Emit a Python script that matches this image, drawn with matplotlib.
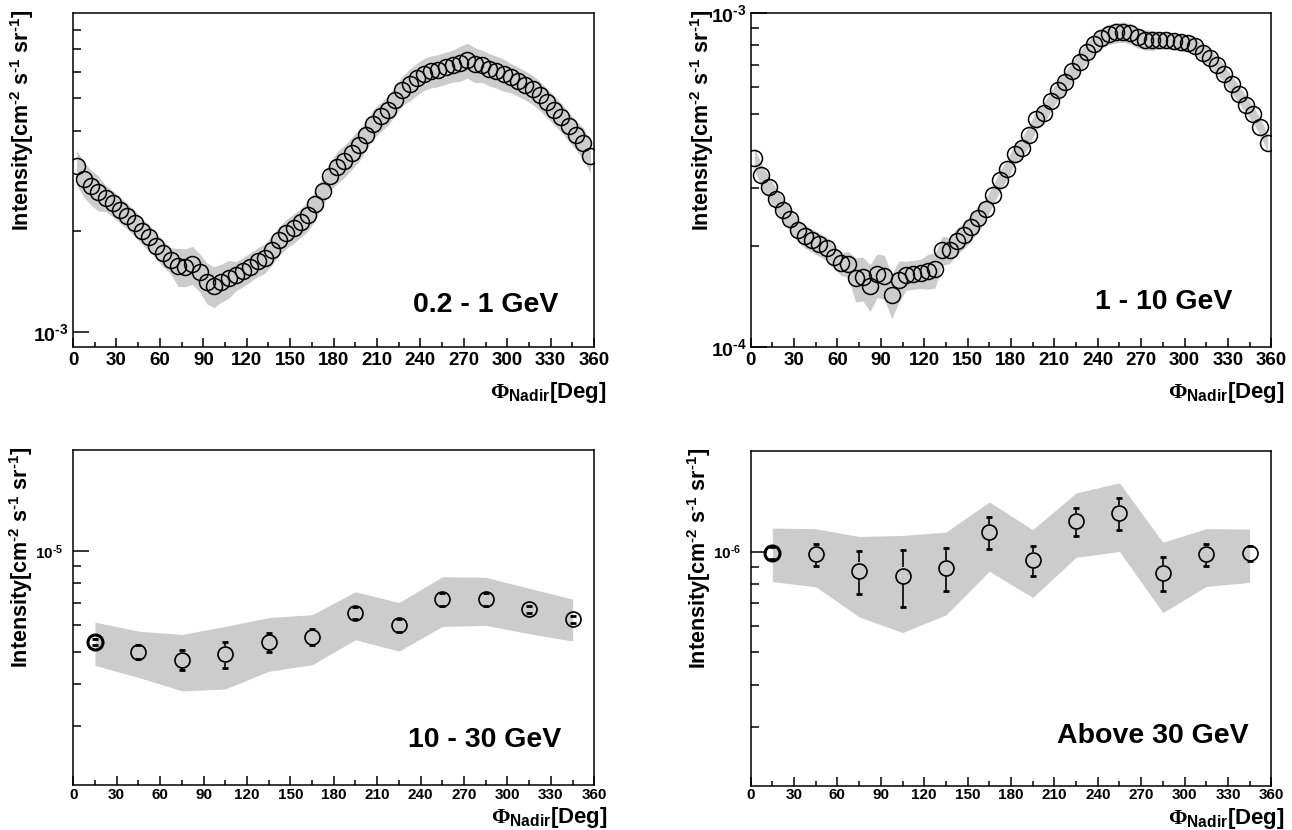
import numpy as np
import matplotlib
matplotlib.use('Agg')
import matplotlib.pyplot as plt
from matplotlib.ticker import FixedLocator, FuncFormatter, NullFormatter

plt.rcParams['font.family'] = ['Liberation Sans', 'DejaVu Sans']
plt.rcParams['font.weight'] = 'bold'
plt.rcParams['mathtext.fontset'] = 'custom'
plt.rcParams['mathtext.rm'] = 'Liberation Sans:bold'
plt.rcParams['mathtext.it'] = 'Liberation Sans:bold'
plt.rcParams['mathtext.bf'] = 'Liberation Sans:bold'
plt.rcParams['mathtext.sf'] = 'Liberation Serif'
plt.rcParams['axes.linewidth'] = 1.1

# bin centres [deg]
phi_fine = np.arange(2.5, 360, 5)
phi_coarse = np.arange(15, 360, 30)

# 0.2 - 1 GeV, intensity in 1e-3 cm^-2 s^-1 sr^-1
int_02_1 = np.array([3.127, 2.873, 2.723, 2.612, 2.517, 2.426, 2.321, 2.227, 2.122, 2.008,
                     1.918, 1.811, 1.715, 1.637, 1.570, 1.567, 1.593, 1.514, 1.409, 1.373,
                     1.410, 1.446, 1.474, 1.516, 1.567, 1.623, 1.662, 1.762, 1.881, 1.973,
                     2.046, 2.129, 2.230, 2.411, 2.646, 2.933, 3.120, 3.252, 3.436, 3.631,
                     3.889, 4.202, 4.414, 4.607, 4.928, 5.294, 5.502, 5.731, 5.928, 6.035,
                     6.089, 6.186, 6.284, 6.389, 6.531, 6.332, 6.271, 6.126, 6.022, 5.902,
                     5.773, 5.636, 5.486, 5.327, 5.105, 4.864, 4.620, 4.387, 4.129, 3.889,
                     3.681, 3.359]) * 1e-3
# relative systematic band
sys_02_1 = np.array([0.12, 0.12, 0.12, 0.12, 0.09, 0.09, 0.09, 0.09, 0.09, 0.09,
                     0.09, 0.09, 0.09, 0.09, 0.13, 0.13, 0.13, 0.13, 0.14, 0.14,
                     0.13, 0.13, 0.10, 0.10, 0.10, 0.10, 0.10, 0.10, 0.10, 0.10,
                     0.10, 0.10, 0.10, 0.10, 0.10, 0.10, 0.11, 0.11, 0.11, 0.11,
                     0.10, 0.10, 0.10, 0.10, 0.10, 0.10, 0.11, 0.11, 0.11, 0.11,
                     0.11, 0.11, 0.11, 0.12, 0.12, 0.12, 0.11, 0.11, 0.11, 0.11,
                     0.10, 0.10, 0.10, 0.10, 0.10, 0.10, 0.10, 0.10, 0.10, 0.10,
                     0.11, 0.11])

# 1 - 10 GeV, intensity in 1e-4
int_1_10 = np.array([3.67, 3.27, 3.01, 2.77, 2.58, 2.41, 2.24, 2.15, 2.09, 2.03,
                     1.975, 1.864, 1.780, 1.772, 1.606, 1.617, 1.522, 1.654, 1.635, 1.431,
                     1.587, 1.643, 1.654, 1.662, 1.692, 1.708, 1.951, 1.951, 2.081, 2.164,
                     2.29, 2.43, 2.59, 2.86, 3.16, 3.42, 3.78, 3.95, 4.30, 4.81,
                     5.01, 5.45, 5.90, 6.23, 6.70, 7.15, 7.65, 8.05, 8.42, 8.64,
                     8.75, 8.79, 8.69, 8.45, 8.33, 8.30, 8.30, 8.29, 8.24, 8.17,
                     8.12, 7.96, 7.60, 7.34, 6.99, 6.58, 6.12, 5.73, 5.32, 4.97,
                     4.55, 4.08]) * 1e-4
sys_1_10 = np.array([0.08, 0.08, 0.08, 0.08, 0.08, 0.08, 0.08, 0.08, 0.08, 0.08,
                     0.08, 0.08, 0.08, 0.09, 0.15, 0.15, 0.16, 0.15, 0.15, 0.15,
                     0.14, 0.10, 0.10, 0.10, 0.12, 0.12, 0.10, 0.09, 0.09, 0.09,
                     0.09, 0.09, 0.07, 0.07, 0.07, 0.07, 0.07, 0.07, 0.07, 0.07,
                     0.07, 0.07, 0.07, 0.07, 0.07, 0.07, 0.07, 0.07, 0.07, 0.07,
                     0.07, 0.07, 0.07, 0.07, 0.07, 0.07, 0.06, 0.06, 0.06, 0.06,
                     0.06, 0.06, 0.06, 0.06, 0.06, 0.06, 0.06, 0.06, 0.06, 0.06,
                     0.06, 0.06])

# 10 - 30 GeV, intensity in 1e-6
int_10_30 = np.array([5.34, 4.99, 4.73, 4.91, 5.34, 5.53, 6.53, 5.99, 7.16, 7.16, 6.69, 6.25]) * 1e-6
err_10_30 = np.array([0.12, 0.23, 0.33, 0.44, 0.35, 0.30, 0.29, 0.28, 0.30, 0.30, 0.15, 0.15]) * 1e-6
lo_10_30 = np.array([4.55, 4.19, 3.82, 3.87, 4.37, 4.57, 5.43, 5.02, 5.95, 5.99, 5.66, 5.38]) * 1e-6
hi_10_30 = np.array([6.13, 5.76, 5.63, 5.95, 6.32, 6.45, 7.55, 7.01, 8.37, 8.34, 7.73, 7.18]) * 1e-6

# above 30 GeV, intensity in 1e-6
int_30 = np.array([0.99, 0.98, 0.877, 0.847, 0.893, 1.143, 0.944, 1.230, 1.303, 0.863, 0.98, 0.988]) * 1e-6
err_30 = np.array([0.04, 0.076, 0.13, 0.166, 0.133, 0.125, 0.098, 0.117, 0.145, 0.10, 0.073, 0.05]) * 1e-6
lo_30 = np.array([0.813, 0.785, 0.638, 0.573, 0.647, 0.873, 0.729, 0.961, 1.0, 0.657, 0.787, 0.809]) * 1e-6
hi_30 = np.array([1.175, 1.170, 1.109, 1.117, 1.143, 1.406, 1.162, 1.496, 1.603, 1.066, 1.170, 1.167]) * 1e-6

BAND = '#cccccc'
# ROOT style labels use a short hyphen in the exponents
YLABEL = 'Intensity[cm$^{\u20102}$ s$^{\u20101}$ sr$^{\u20101}$]'
XLABEL = '$\\mathsf{\u03a6}_{Nadir}$[Deg]'


def log_label(v, pos):
    return '$10^{\u2010%d}$' % (-round(np.log10(v)))


def setup_axes(ax, ylim, minor, xfs, yfs, xpad, ypad):
    ax.set_yscale('log')
    ax.set_xlim(0, 360)
    ax.set_ylim(*ylim)
    ax.xaxis.set_major_locator(FixedLocator(np.arange(0, 361, 30)))
    ax.xaxis.set_minor_locator(FixedLocator(np.arange(15, 360, 30)))
    ax.yaxis.set_major_locator(FixedLocator([10.0 ** k for k in range(-8, 0)]))
    ax.yaxis.set_major_formatter(FuncFormatter(log_label))
    ax.yaxis.set_minor_locator(FixedLocator(minor))
    ax.yaxis.set_minor_formatter(NullFormatter())
    ax.tick_params(which='both', direction='in', top=False, right=False, width=1.1)
    ax.tick_params(axis='x', which='major', length=6.5, labelsize=xfs, pad=xpad)
    ax.tick_params(axis='x', which='minor', length=3.5)
    ax.tick_params(axis='y', which='major', length=11.5, labelsize=yfs, pad=ypad)
    ax.tick_params(axis='y', which='minor', length=5.8)
    for lab in ax.get_xticklabels() + ax.get_yticklabels():
        lab.set_fontweight('bold')


def add_labels(ax, title, tx, ty, ylx, xly):
    ax.set_ylabel(YLABEL, loc='top', fontsize=15.5, fontweight='bold')
    ax.yaxis.set_label_coords(ylx, 1.01)
    ax.text(1.025, xly, XLABEL, transform=ax.transAxes, ha='right', va='top',
            fontsize=16, fontweight='bold')
    ax.text(tx, ty, title, transform=ax.transAxes, ha='right', va='baseline',
            fontsize=20.5, fontweight='bold')


def draw_errors(fig, ax, x, y, err, ylim, ms, mew):
    # error bars are drawn outside the open marker, like ROOT does
    ax_h_px = ax.get_position().height * fig.get_figheight() * fig.dpi
    per_decade = ax_h_px / np.log10(ylim[1] / ylim[0])
    r_px = (ms / 2 + mew / 2) * fig.dpi / 72
    gap = 10 ** (r_px / per_decade)
    up0 = y * gap
    dn0 = y / gap
    ax.vlines(x, up0, np.maximum(y + err, up0), color='black', lw=1.2, zorder=2)
    ax.vlines(x, np.minimum(y - err, dn0), dn0, color='black', lw=1.2, zorder=2)
    ax.plot(x, y + err, '_', color='black', ms=5, mew=2, zorder=2)
    ax.plot(x, y - err, '_', color='black', ms=5, mew=2, zorder=2)


fig = plt.figure(figsize=(12.92, 8.30), dpi=100)

ax1 = fig.add_axes([0.0565, 0.5819, 0.4033, 0.4024])
ax2 = fig.add_axes([0.5810, 0.5819, 0.4030, 0.4024])
ax3 = fig.add_axes([0.0567, 0.0542, 0.4033, 0.4036])
ax4 = fig.add_axes([0.5810, 0.0534, 0.4030, 0.4036])

# top row: fine binning
ylim1 = (9e-4, 9e-3)
ax1.fill_between(phi_fine, int_02_1 * (1 - sys_02_1), int_02_1 * (1 + sys_02_1),
                 color=BAND, lw=0, zorder=1)
ax1.plot(phi_fine, int_02_1, 'o', mfc='none', mec='black', ms=11.5, mew=1.1, zorder=3)
setup_axes(ax1, ylim1, [2e-3, 4e-3, 5e-3, 6e-3, 7e-3, 8e-3], 13.5, 14, 3.5, 3)
add_labels(ax1, '0.2 - 1 GeV', 0.931, 0.105, -0.071, -0.099)

ylim2 = (1e-4, 1e-3)
ax2.fill_between(phi_fine, int_1_10 * (1 - sys_1_10), int_1_10 * (1 + sys_1_10),
                 color=BAND, lw=0, zorder=1)
ax2.plot(phi_fine, int_1_10, 'o', mfc='none', mec='black', ms=11.5, mew=1.1, zorder=3)
setup_axes(ax2, ylim2, [2e-4, 3e-4, 5e-4, 6e-4, 7e-4, 8e-4, 9e-4], 13.5, 14, 3.5, 3)
add_labels(ax2, '1 - 10 GeV', 0.9256, 0.114, -0.067, -0.099)

# bottom row: coarse binning with error bars
ylim3 = (2e-6, 2e-5)
ax3.fill_between(phi_coarse, lo_10_30, hi_10_30, color=BAND, lw=0, zorder=1)
draw_errors(fig, ax3, phi_coarse, int_10_30, err_10_30, ylim3, 10.8, 1.2)
ax3.plot(phi_coarse, int_10_30, 'o', mfc='none', mec='black', ms=10.8, mew=1.2, zorder=3)
ax3.plot(phi_coarse[:1], int_10_30[:1], 'o', mfc='none', mec='black', ms=10.8, mew=2.2, zorder=3)
setup_axes(ax3, ylim3, [3e-6, 4e-6, 5e-6, 6e-6, 7e-6, 8e-6, 9e-6], 11, 11, 2, 7)
add_labels(ax3, '10 - 30 GeV', 0.937, 0.1125, -0.074, -0.060)

ylim4 = (2e-7, 2e-6)
ax4.fill_between(phi_coarse, lo_30, hi_30, color=BAND, lw=0, zorder=1)
draw_errors(fig, ax4, phi_coarse, int_30, err_30, ylim4, 10.8, 1.2)
ax4.plot(phi_coarse, int_30, 'o', mfc='none', mec='black', ms=10.8, mew=1.2, zorder=3)
ax4.plot(phi_coarse[:1], int_30[:1], 'o', mfc='none', mec='black', ms=10.8, mew=2.2, zorder=3)
setup_axes(ax4, ylim4, [3e-7, 4e-7, 5e-7, 6e-7, 7e-7, 8e-7, 9e-7], 11, 11, 2, 7)
add_labels(ax4, 'Above 30 GeV', 0.956, 0.127, -0.073, -0.060)

fig.savefig('out.png', dpi=100)
